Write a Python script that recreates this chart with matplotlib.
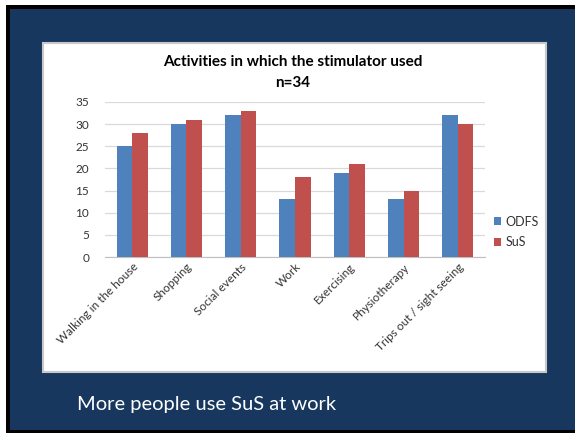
import matplotlib
matplotlib.use("Agg")
import matplotlib.pyplot as plt
import numpy as np
from matplotlib.patches import Rectangle

categories = ["Walking in the house", "Shopping", "Social events", "Work",
              "Exercising", "Physiotherapy", "Trips out / sight seeing"]
odfs = [25, 30, 32, 13, 19, 13, 32]
sus = [28, 31, 33, 18, 21, 15, 30]
series_names = ["ODFS", "SuS"]
yticks = [0, 5, 10, 15, 20, 25, 30, 35]

W, H = 575, 433
plt.rcParams["font.family"] = ["Lato", "DejaVu Sans"]

fig = plt.figure(figsize=(W / 100, H / 100), dpi=100)
fig.patch.set_facecolor("white")


def px_rect(x0, y0, x1, y1, **kw):
    """Rectangle in pixel coordinates measured from the top-left corner."""
    r = Rectangle((x0 / W, 1 - y1 / H), (x1 - x0) / W, (y1 - y0) / H,
                  transform=fig.transFigure, **kw)
    fig.add_artist(r)
    return r


# slide frame, background and white chart panel
px_rect(6, 5, 600, 440, facecolor="black", edgecolor="none", zorder=0)
px_rect(10, 9, 600, 430, facecolor="#17375E", edgecolor="none", zorder=0)
px_rect(43, 43, 546, 372, facecolor="white", edgecolor="#c8c8c8",
        linewidth=1.5, zorder=0)

ax = fig.add_axes([105 / W, 1 - 257 / H, 380 / W, 155 / H])
ax.set_facecolor("white")

x = np.arange(len(categories))
bw = 1 / 3.5
ax.bar(x - bw / 2, odfs, width=bw, color="#4F81BD", label=series_names[0], zorder=3)
ax.bar(x + bw / 2, sus, width=bw, color="#C0504D", label=series_names[1], zorder=3)

ax.set_xlim(-0.5, len(categories) - 0.5)
ax.set_ylim(0, 35)
ax.set_yticks(yticks)
ax.set_yticklabels([str(v) for v in yticks], fontsize=8.5, color="#333333")
ax.yaxis.grid(True, color="#d9d9d9", linewidth=0.9, zorder=0)
ax.set_axisbelow(True)
for s in ["top", "right", "left"]:
    ax.spines[s].set_visible(False)
ax.spines["bottom"].set_color("#bfbfbf")
ax.tick_params(axis="y", length=0, pad=11.5)
ax.tick_params(axis="x", length=0, pad=3)
ax.set_xticks(x)
ax.set_xticklabels(categories, rotation=45, ha="right", rotation_mode="anchor",
                   fontsize=8.5, color="#333333")

fig.text(293 / W, 1 - 62 / H, "Activities in which the stimulator used",
         ha="center", va="center", fontsize=11, fontweight="bold", color="black")
fig.text(293 / W, 1 - 83 / H, "n=34", ha="center", va="center",
         fontsize=11, fontweight="bold", color="black")

leg = ax.legend(loc="center left", bbox_to_anchor=(494 / W, 1 - 232 / H),
                bbox_transform=fig.transFigure, frameon=False, fontsize=9,
                handlelength=0.6, handleheight=0.6, handletextpad=0.3,
                labelspacing=0.7, borderaxespad=0, borderpad=0)
for t in leg.get_texts():
    t.set_color("#333333")

fig.text(77 / W, 1 - 410 / H, "More people use SuS at work", ha="left",
         va="baseline", fontsize=14.5, color="white")

fig.savefig("out.png", dpi=100, facecolor=fig.get_facecolor())
